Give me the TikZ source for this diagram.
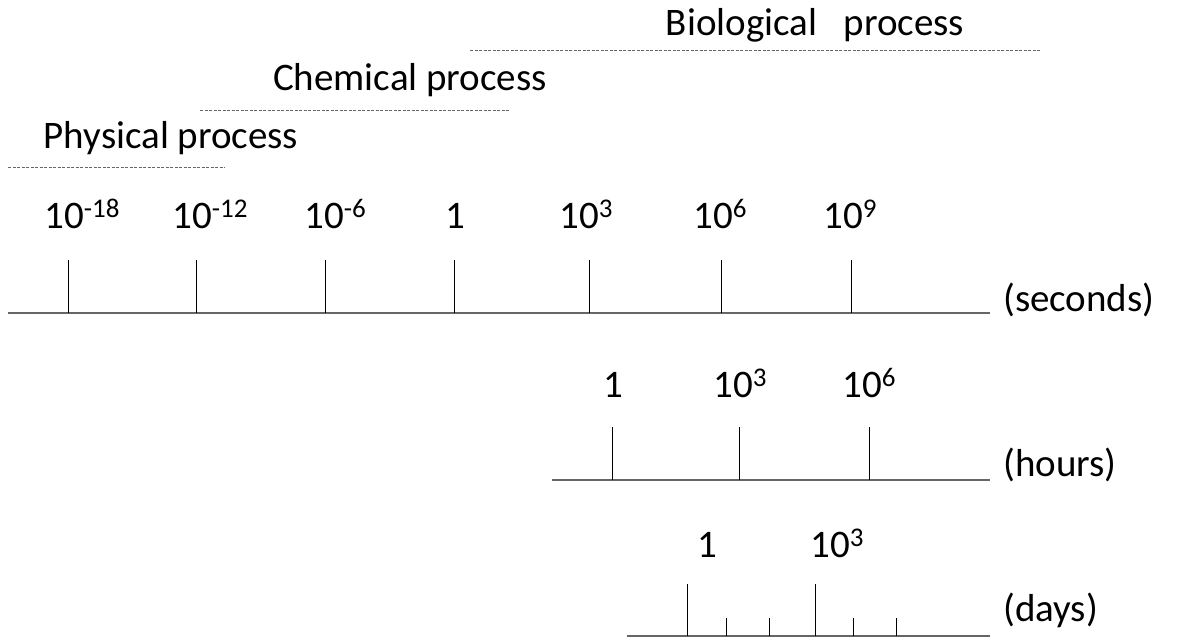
\documentclass[tikz,border=0pt]{standalone}
\usepackage{fontspec}
\setmainfont{Carlito}
\newcommand{\supx}[1]{\raisebox{0.27em}{\fontsize{27}{30}\selectfont #1}}
\begin{document}
\begin{tikzpicture}[x=1pt,y=-1pt,
  lbl/.style={inner sep=0pt,anchor=base,font=\fontsize{39}{44}\selectfont},
  ttl/.style={inner sep=0pt,font=\fontsize{39}{44}\selectfont},
  axisline/.style={draw=black!60,line width=1.6pt},
  tick/.style={draw=black,line width=1pt},
  proc/.style={draw=black!60,line width=1pt,dash pattern=on 3pt off 1.5pt}]
\useasboundingbox (0,0) rectangle (1181,640);
% process ranges
\coordinate (pa) at (8,167); \coordinate (pb) at (225,167);
\coordinate (ca) at (200,110); \coordinate (cb) at (510,110);
\coordinate (ba) at (470,50); \coordinate (bb) at (1040,50);
\draw[proc] (pa) -- (pb);
\draw[proc] (ca) -- (cb);
\draw[proc] (ba) -- (bb);
\node[ttl] (tphys) at (171,138) {Physical process};
\node[ttl] (tchem) at (410,80) {Chemical process};
\node[ttl] (tbio) at (815,25) {Biological\ \ \ process};
% seconds axis
\coordinate (s0) at (8,313); \coordinate (s1) at (990,313);
\draw[axisline] (s0) -- (s1);
\foreach \x [count=\i] in {68,196,325,454,589,721,851}{
  \coordinate (st\i) at (\x,313); \coordinate (sT\i) at (\x,260);
  \draw[tick] (st\i) -- (sT\i);
}
\node[lbl] (ls1) at (82,228) {10\supx{-18}};
\node[lbl] (ls2) at (210,228) {10\supx{-12}};
\node[lbl] (ls3) at (335,228) {10\supx{-6}};
\node[lbl] (ls4) at (455,228) {1};
\node[lbl] (ls5) at (586,228) {10\supx{3}};
\node[lbl] (ls6) at (720,228) {10\supx{6}};
\node[lbl] (ls7) at (850,228) {10\supx{9}};
\node[ttl,anchor=west] (lsec) at (1003,300) {(seconds)};
% hours axis
\coordinate (h0) at (552,480); \coordinate (h1) at (990,480);
\draw[axisline] (h0) -- (h1);
\foreach \x [count=\i] in {612,739,869}{
  \coordinate (ht\i) at (\x,480); \coordinate (hT\i) at (\x,427);
  \draw[tick] (ht\i) -- (hT\i);
}
\node[lbl] (lh1) at (613,397) {1};
\node[lbl] (lh2) at (740,397) {10\supx{3}};
\node[lbl] (lh3) at (869,397) {10\supx{6}};
\node[ttl,anchor=west] (lhr) at (1003,465) {(hours)};
% days axis
\coordinate (d0) at (627,636); \coordinate (d1) at (990,636);
\draw[axisline] (d0) -- (d1);
\foreach \x [count=\i] in {687,815}{
  \coordinate (dt\i) at (\x,636); \coordinate (dT\i) at (\x,584);
  \draw[tick] (dt\i) -- (dT\i);
}
\foreach \x [count=\i] in {726,769,853,896}{
  \coordinate (dm\i) at (\x,636); \coordinate (dM\i) at (\x,618);
  \draw[tick] (dm\i) -- (dM\i);
}
\node[lbl] (ld1) at (707,557) {1};
\node[lbl] (ld2) at (837,557) {10\supx{3}};
\node[ttl,anchor=west] (lday) at (1003,610) {(days)};
\end{tikzpicture}
\end{document}
